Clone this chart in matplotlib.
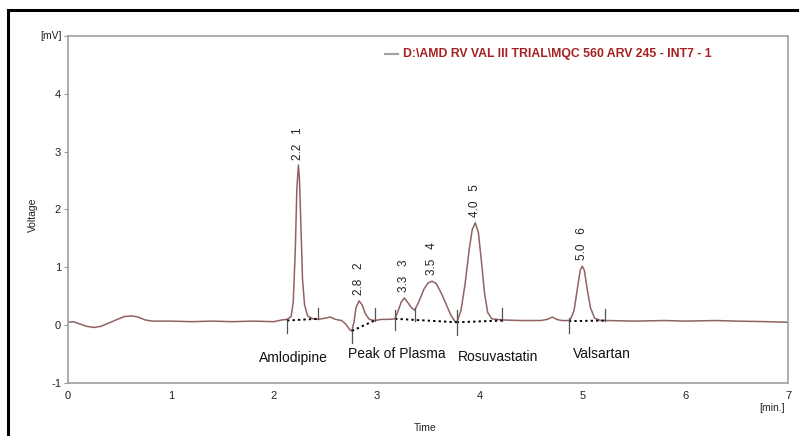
import matplotlib

matplotlib.use("Agg")
import matplotlib.pyplot as plt
from matplotlib.lines import Line2D

plt.rcParams["font.family"] = ["Liberation Sans", "DejaVu Sans"]

# chromatogram trace: time [min], voltage [mV]
trace_t = [0.00, 0.05, 0.10, 0.18, 0.25, 0.32, 0.40, 0.48, 0.55, 0.62, 0.68, 0.75, 0.82,
           1.00, 1.20, 1.40, 1.60, 1.80, 2.00, 2.08, 2.13, 2.17, 2.19, 2.21, 2.225, 2.24,
           2.25, 2.265, 2.28, 2.30, 2.33, 2.38, 2.43, 2.50, 2.55, 2.60, 2.66, 2.70, 2.74,
           2.76, 2.78, 2.80, 2.83, 2.86, 2.89, 2.93, 2.98, 3.05, 3.12, 3.18, 3.21, 3.24,
           3.27, 3.30, 3.34, 3.37, 3.41, 3.46, 3.50, 3.54, 3.58, 3.63, 3.68, 3.72, 3.76,
           3.78, 3.82, 3.86, 3.90, 3.93, 3.96, 3.99, 4.02, 4.05, 4.08, 4.12, 4.22, 4.40,
           4.60, 4.66, 4.71, 4.75, 4.80, 4.88, 4.92, 4.95, 4.98, 5.00, 5.02, 5.05, 5.08,
           5.12, 5.18, 5.25, 5.50, 5.80, 6.00, 6.30, 6.50, 6.80, 7.00]
trace_v = [0.05, 0.06, 0.03, -0.02, -0.04, -0.02, 0.04, 0.10, 0.15, 0.16, 0.14, 0.09, 0.07,
           0.07, 0.06, 0.07, 0.06, 0.07, 0.06, 0.09, 0.10, 0.15, 0.40, 1.30, 2.35, 2.77,
           2.55, 1.70, 0.80, 0.35, 0.16, 0.11, 0.10, 0.12, 0.14, 0.10, 0.08, 0.02, -0.08,
           -0.10, 0.05, 0.30, 0.42, 0.35, 0.20, 0.10, 0.08, 0.10, 0.10, 0.11, 0.25, 0.40,
           0.47, 0.40, 0.30, 0.26, 0.40, 0.62, 0.73, 0.76, 0.72, 0.55, 0.35, 0.18, 0.07,
           0.05, 0.25, 0.70, 1.30, 1.65, 1.77, 1.60, 1.10, 0.55, 0.22, 0.11, 0.09, 0.08,
           0.08, 0.10, 0.14, 0.10, 0.08, 0.08, 0.25, 0.60, 0.95, 1.02, 0.95, 0.60, 0.30,
           0.12, 0.08, 0.08, 0.07, 0.08, 0.07, 0.08, 0.07, 0.06, 0.05]

# integration baselines (dotted): start/end time and voltage
base_t0 = [2.13, 2.76, 3.18, 3.78, 4.87]
base_v0 = [0.08, -0.10, 0.11, 0.05, 0.07]
base_t1 = [2.43, 2.98, 3.78, 4.22, 5.22]
base_v1 = [0.11, 0.08, 0.05, 0.08, 0.08]

# peak boundary markers: time, low and high voltage
mark_t = [2.13, 2.43, 2.76, 2.98, 3.18, 3.37, 3.78, 4.22, 4.87, 5.22]
mark_lo = [-0.13, 0.10, -0.30, 0.08, -0.09, 0.08, -0.17, 0.08, -0.14, 0.08]
mark_hi = [0.08, 0.30, -0.10, 0.30, 0.26, 0.29, 0.26, 0.30, 0.12, 0.28]

# peak annotations
peak_labels = ["2.2   1", "2.8   2", "3.3   3", "3.5   4", "4.0   5", "5.0   6"]
peak_t = [2.24, 2.83, 3.27, 3.54, 3.96, 5.00]
peak_label_v = [2.85, 0.52, 0.57, 0.87, 1.87, 1.12]

compounds = ["Amlodipine", "Peak of Plasma", "Rosuvastatin", "Valsartan"]
compound_t = [2.19, 3.20, 4.18, 5.19]
compound_v = [-0.57, -0.50, -0.55, -0.50]

x_ticks = [0, 1, 2, 3, 4, 5, 6, 7]
y_ticks = [-1, 0, 1, 2, 3, 4, 5]
y_tick_labels = ["-1", "0", "1", "2", "3", "4", ""]

legend_text = "D:\\AMD RV VAL III TRIAL\\MQC 560 ARV 245 - INT7 - 1"

fig = plt.figure(figsize=(7.99, 4.36), dpi=100)
ax = fig.add_axes([0.0851, 0.1216, 0.9011, 0.7958])

ax.plot(trace_t, trace_v, color="#916262", lw=1.1)

for t0, v0, t1, v1 in zip(base_t0, base_v0, base_t1, base_v1):
    ax.plot([t0, t1], [v0, v1], color="black", lw=1.4, ls=(0, (1.2, 1.6)))

for t, lo, hi in zip(mark_t, mark_lo, mark_hi):
    ax.plot([t, t], [lo, hi], color="#555555", lw=0.9)

for lab, t, v in zip(peak_labels, peak_t, peak_label_v):
    ax.text(t, v, lab, rotation=90, ha="center", va="bottom", fontsize=8.5, color="#222222")

for name, t, v in zip(compounds, compound_t, compound_v):
    ax.text(t, v, name, ha="center", va="center", fontsize=10, color="#111111")

ax.set_xlim(0, 7)
ax.set_ylim(-1, 5)
ax.set_xticks(x_ticks)
ax.set_yticks(y_ticks)
ax.set_yticklabels(y_tick_labels)
ax.tick_params(axis="both", colors="#999999", labelcolor="#222222", labelsize=8)
ax.tick_params(axis="y", length=3, width=0.8, pad=2)
ax.tick_params(axis="x", length=0, pad=6)
for sp in ax.spines.values():
    sp.set_color("#a0a0a0")
    sp.set_linewidth(1.2)

# legend drawn by hand, as in the instrument printout
ax.plot([0.440, 0.458], [0.948, 0.948], transform=ax.transAxes, color="#a0a0a0", lw=1.5,
        clip_on=False)
ax.text(0.465, 0.948, legend_text, transform=ax.transAxes, ha="left", va="center",
        fontsize=8.8, fontweight="bold", color="#a52020")

fig.text(40 / 799, 1 - 36 / 436, "[mV]", ha="left", va="center", fontsize=7.5, color="#222222")
fig.text(33 / 799, 1 - 215 / 436, "Voltage", rotation=90, ha="center", va="center",
         fontsize=7.5, color="#222222")
fig.text(425 / 799, 1 - 428 / 436, "Time", ha="center", va="center", fontsize=7.5,
         color="#222222")
fig.text(772 / 799, 1 - 408 / 436, "[min.]", ha="center", va="center", fontsize=7.5,
         color="#222222")

# black frame of the printout (left and top edges visible)
fig.add_artist(Line2D([8 / 799, 8 / 799], [0, 1 - 10 / 436], color="black", lw=2.2))
fig.add_artist(Line2D([8 / 799, 1], [1 - 10 / 436, 1 - 10 / 436], color="black", lw=2.2))

fig.savefig("out.png", dpi=100)
plt.close(fig)
